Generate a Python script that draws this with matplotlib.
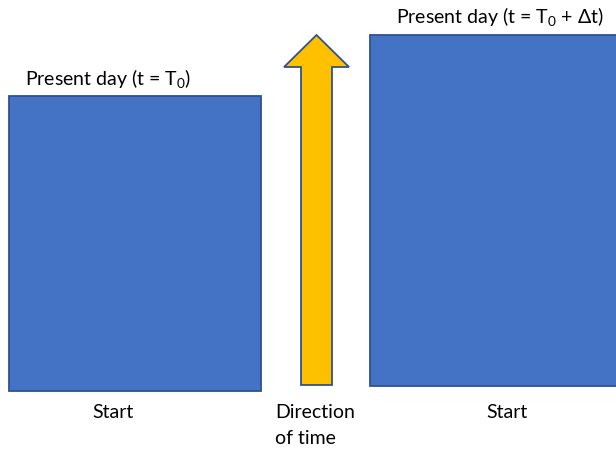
import matplotlib
matplotlib.use('Agg')
import matplotlib.pyplot as plt
from matplotlib.patches import FancyArrow

plt.rcParams['font.family'] = ['Lato', 'DejaVu Sans']

# boxes: left edge, width, top, bottom (pixel-like units, y down)
box_left = [9, 370]
box_width = [252, 260]
box_top = [96, 35]
box_bottom = [391, 386]
box_titles = ['Present day (t = $\\mathregular{T_0}$)',
              'Present day (t = $\\mathregular{T_0}$ + \u0394t)']
box_title_x = [108, 500]
box_title_y = [79, 16]
start_x = [113, 507]

blue = '#4472C4'
edge = '#2F528F'
yellow = '#FFC000'

fig = plt.figure(figsize=(6.16, 4.54), dpi=100)
ax = fig.add_axes([0, 0, 1, 1])
ax.set_xlim(0, 616)
ax.set_ylim(454, 0)
ax.axis('off')

heights = [b - t for t, b in zip(box_top, box_bottom)]
ax.bar(box_left, heights, width=box_width, bottom=box_top, align='edge',
       color=blue, edgecolor=edge, linewidth=1.3)

fs = 14
for tx, ty, s in zip(box_title_x, box_title_y, box_titles):
    ax.text(tx, ty, s, ha='center', va='center', fontsize=fs)
for sx in start_x:
    ax.text(sx, 412, 'Start', ha='center', va='center', fontsize=fs)

# time arrow
arrow = FancyArrow(316.5, 385, 0, -350, width=31, head_width=65,
                   head_length=32, length_includes_head=True,
                   facecolor=yellow, edgecolor=edge, linewidth=1.3)
ax.add_patch(arrow)
ax.text(275, 412, 'Direction', ha='left', va='center', fontsize=fs)
ax.text(275, 439, 'of time', ha='left', va='center', fontsize=fs)

fig.savefig('out.png', dpi=100)
